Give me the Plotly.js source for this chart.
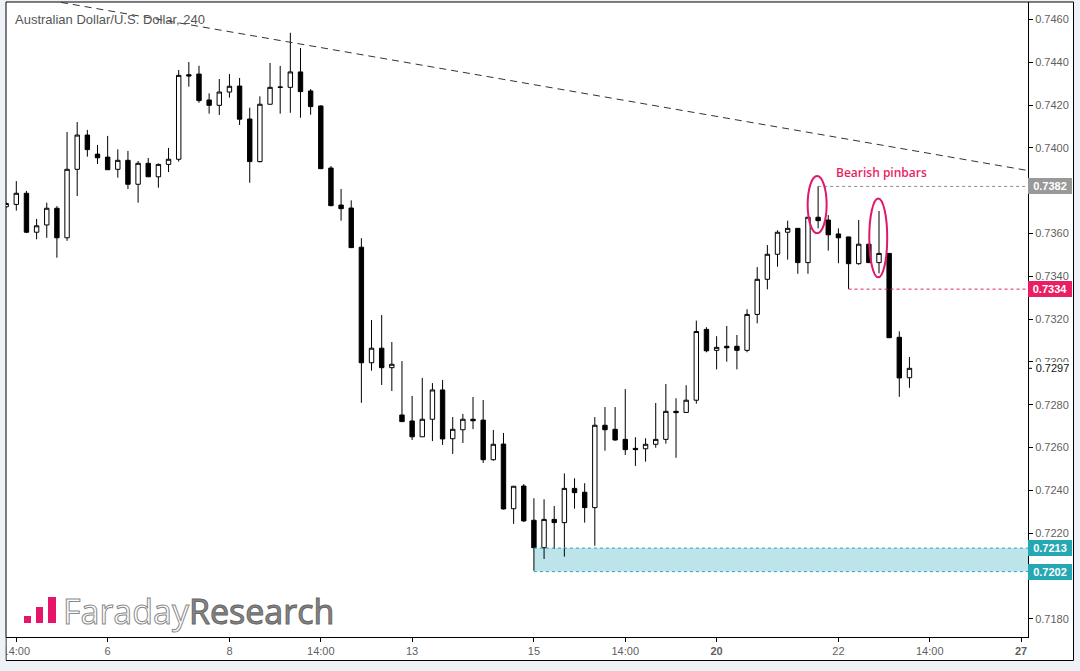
<!DOCTYPE html>
<html><head><meta charset="utf-8">
<script src="https://cdn.plot.ly/plotly-3.0.1.min.js"></script>
<style>html,body{margin:0;padding:0;background:#eef2f6;}#chart{width:1080px;height:671px;}</style>
</head><body><div id="chart"></div>
<script>
// ---- candle data (4H AUD/USD), index 0..89 ----
const openP = [0.73725,0.73736,0.73788,0.73606,0.73640,0.73718,0.73580,0.73900,0.74060,0.73971,
0.73957,0.73900,0.73942,0.73830,0.73928,0.73865,0.73923,0.73947,0.74342,0.74345,
0.74224,0.74199,0.74261,0.74289,0.74135,0.73936,0.74204,0.74285,0.74283,0.74355,
0.74266,0.74196,0.73906,0.73733,0.73719,0.73536,0.72996,0.73064,0.72973,0.72752,
0.72724,0.72650,0.72732,0.72869,0.72641,0.72683,0.72732,0.72728,0.72543,0.72616,
0.72314,0.72420,0.72260,0.72132,0.72264,0.72249,0.72409,0.72391,0.72319,0.72704,
0.72685,0.72638,0.72596,0.72594,0.72615,0.72638,0.72769,0.72764,0.72821,0.73152,
0.73054,0.73073,0.73073,0.73054,0.73222,0.73386,0.73503,0.73606,0.73624,0.73464,
0.73676,0.73663,0.73598,0.73584,0.73459,0.73550,0.73464,0.73507,0.73115,0.72926];
const highP = [0.73745,0.73845,0.73799,0.73668,0.73744,0.73728,0.74074,0.74121,0.74084,0.74014,
0.74056,0.73993,0.73986,0.73939,0.73953,0.73927,0.74000,0.74364,0.74401,0.74384,
0.74255,0.74322,0.74345,0.74327,0.74188,0.74241,0.74397,0.74383,0.74538,0.74467,
0.74275,0.74199,0.73915,0.73808,0.73755,0.73578,0.73196,0.73219,0.73093,0.73004,
0.72841,0.72925,0.72901,0.72915,0.72742,0.72757,0.72836,0.72822,0.72682,0.72668,
0.72420,0.72429,0.72363,0.72358,0.72327,0.72479,0.72456,0.72433,0.72742,0.72789,
0.72789,0.72873,0.72648,0.72643,0.72808,0.72897,0.72830,0.72891,0.73193,0.73162,
0.73120,0.73168,0.73126,0.73246,0.73443,0.73546,0.73615,0.73660,0.73626,0.73677,
0.73822,0.73686,0.73624,0.73584,0.73663,0.73551,0.73705,0.73509,0.73143,0.73023];
const lowP = [0.73720,0.73707,0.73602,0.73573,0.73580,0.73487,0.73566,0.73775,0.73959,0.73925,
0.73897,0.73861,0.73808,0.73744,0.73864,0.73814,0.73887,0.73936,0.74286,0.74211,
0.74160,0.74154,0.74235,0.74107,0.73837,0.73932,0.74203,0.74160,0.74164,0.74141,
0.74155,0.73901,0.73728,0.73660,0.73532,0.72809,0.72959,0.72892,0.72864,0.72719,
0.72635,0.72649,0.72630,0.72612,0.72570,0.72621,0.72686,0.72528,0.72538,0.72310,
0.72243,0.72252,0.72024,0.72079,0.72126,0.72090,0.72314,0.72249,0.72141,0.72585,
0.72632,0.72565,0.72514,0.72534,0.72599,0.72618,0.72552,0.72763,0.72805,0.73045,
0.72965,0.73001,0.72965,0.73045,0.73180,0.73339,0.73445,0.73478,0.73412,0.73412,
0.73624,0.73520,0.73461,0.73341,0.73454,0.73462,0.73414,0.73112,0.72837,0.72879];
const closeP = [0.73740,0.73788,0.73606,0.73636,0.73718,0.73580,0.73900,0.74060,0.73992,0.73954,
0.73898,0.73942,0.73830,0.73928,0.73865,0.73923,0.73947,0.74339,0.74336,0.74221,
0.74199,0.74261,0.74288,0.74134,0.73936,0.74204,0.74283,0.74283,0.74355,0.74263,
0.74193,0.73903,0.73730,0.73716,0.73534,0.72996,0.73064,0.72973,0.72989,0.72721,
0.72650,0.72732,0.72869,0.72640,0.72685,0.72732,0.72725,0.72543,0.72615,0.72313,
0.72419,0.72257,0.72132,0.72264,0.72249,0.72409,0.72389,0.72319,0.72704,0.72683,
0.72635,0.72590,0.72590,0.72615,0.72638,0.72769,0.72763,0.72821,0.73142,0.73052,
0.73068,0.73066,0.73054,0.73222,0.73386,0.73503,0.73606,0.73624,0.73464,0.73676,
0.73660,0.73594,0.73580,0.73459,0.73550,0.73464,0.73507,0.73113,0.72925,0.72970];
const candleIdx = openP.map((_, i) => i);

// ---- axis ticks ----
const xTickPos = [1, 10, 22, 31, 40, 52, 61, 70, 82, 91, 100];
const xTickText = ['14:00','6','8','14:00','13','15','14:00','<b>20</b>','22','14:00','<b>27</b>'];
const yTickVals = [0.718,0.720,0.722,0.724,0.726,0.728,0.730,0.732,0.734,0.736,0.738,0.740,0.742,0.744,0.746];
const yTickText = ['0.7180','','0.7220','0.7240','0.7260','0.7280','0.7300','0.7320','0.7340','0.7360','','0.7400','0.7420','0.7440','0.7460'];

// ---- annotation levels ----
const levelHigh = 0.7382, levelHighStart = 80;
const levelLow = 0.7334, levelLowStart = 83;
const zoneTop = 0.7213, zoneBottom = 0.7202, zoneStart = 52;
const lastPrice = 0.7297;
const trendX = [5.4, 100.7];
const trendY = [0.74680, 0.73894];
const pinbar1 = {x: [78.97, 80.84], y: [0.73601, 0.73869]};
const pinbar2 = {x: [85.04, 86.81], y: [0.73395, 0.73764]};
const noteText = 'Bearish pinbars', noteX = 81.6, noteY = 0.73885;

// ---- geometry ----
const ML = 6, MR = 52, MT = 2, MB = 34, W = 1080, H = 671;
const PW = W - ML - MR, PH = H - MT - MB;
const px2x = px => (px - ML) / PW;
const py2y = py => (H - MB - py) / PH;
const xMin = -0.015, xMax = 100.68;
const yMin = 0.717145, yMax = 0.746818;

const PINK = '#e91e63', TEAL = '#26a7b4', GRAY = '#999999';
const FONT = 'Liberation Sans, Arial, sans-serif';

const trace = {
  type: 'candlestick', x: candleIdx, open: openP, high: highP, low: lowP, close: closeP,
  increasing: {line: {color: '#000', width: 1}, fillcolor: '#ffffff'},
  decreasing: {line: {color: '#000', width: 1}, fillcolor: '#000000'},
  whiskerwidth: 0, hoverinfo: 'skip', showlegend: false
};

const shapes = [
  {type: 'rect', xref: 'paper', yref: 'paper', x0: px2x(6), x1: px2x(1073.5), y0: py2y(660.5), y1: py2y(2),
   fillcolor: '#ffffff', line: {color: '#000', width: 1}, layer: 'below'},
  {type: 'rect', xref: 'x', yref: 'y', x0: zoneStart, x1: xMax, y0: zoneBottom, y1: zoneTop,
   fillcolor: '#bee4eb', line: {width: 0}, layer: 'below'},
  {type: 'line', xref: 'x', yref: 'y', x0: zoneStart, x1: xMax, y0: zoneTop, y1: zoneTop, line: {color: TEAL, width: 1, dash: 'dot'}},
  {type: 'line', xref: 'x', yref: 'y', x0: zoneStart, x1: xMax, y0: zoneBottom, y1: zoneBottom, line: {color: TEAL, width: 1, dash: 'dot'}},
  {type: 'line', xref: 'x', yref: 'y', x0: levelHighStart, x1: xMax, y0: levelHigh, y1: levelHigh, line: {color: '#8c8c8c', width: 1, dash: 'dot'}},
  {type: 'line', xref: 'x', yref: 'y', x0: levelLowStart, x1: xMax, y0: levelLow, y1: levelLow, line: {color: PINK, width: 1, dash: 'dot'}},
  {type: 'line', xref: 'x', yref: 'y', x0: trendX[0], x1: trendX[1], y0: trendY[0], y1: trendY[1], line: {color: '#333', width: 1, dash: '7px,5px'}},
  {type: 'circle', xref: 'x', yref: 'y', x0: pinbar1.x[0], x1: pinbar1.x[1], y0: pinbar1.y[0], y1: pinbar1.y[1], line: {color: '#e0186c', width: 2}},
  {type: 'circle', xref: 'x', yref: 'y', x0: pinbar2.x[0], x1: pinbar2.x[1], y0: pinbar2.y[0], y1: pinbar2.y[1], line: {color: '#e0186c', width: 2}},
  {type: 'line', xref: 'paper', yref: 'y', x0: 1, x1: px2x(1032), y0: lastPrice, y1: lastPrice, line: {color: '#000', width: 1}},
  // logo bars
  {type: 'rect', xref: 'paper', yref: 'paper', x0: px2x(24), x1: px2x(31), y0: py2y(623), y1: py2y(616), fillcolor: '#e8146c', line: {width: 0}},
  {type: 'rect', xref: 'paper', yref: 'paper', x0: px2x(36), x1: px2x(43), y0: py2y(623), y1: py2y(607), fillcolor: '#e8146c', line: {width: 0}},
  {type: 'rect', xref: 'paper', yref: 'paper', x0: px2x(48), x1: px2x(56), y0: py2y(623), y1: py2y(597), fillcolor: '#e8146c', line: {width: 0}},
  // clip first tick label at frame edge
  {type: 'rect', xref: 'paper', yref: 'paper', x0: px2x(0), x1: px2x(5.5), y0: py2y(671), y1: py2y(637.5), fillcolor: '#eef2f6', line: {width: 0}, layer: 'above'}
];

function priceLabel(v, txt, bg, fg, xs, w) {
  return {xref: 'paper', yref: 'y', x: 1, y: v, xanchor: 'left', yanchor: 'middle', xshift: xs || 0,
    text: txt, showarrow: false, width: w || 44, height: 16, bgcolor: bg, borderpad: 0, borderwidth: 0,
    align: 'center', font: {family: FONT, size: 11, color: fg, weight: 'bold'}};
}

const annotations = [
  {xref: 'x', yref: 'y', x: noteX, y: noteY, xanchor: 'left', yanchor: 'middle', text: noteText, showarrow: false,
   font: {family: 'Open Sans, sans-serif', size: 12, color: PINK, weight: 600}},
  priceLabel(levelHigh, levelHigh.toFixed(4), GRAY, '#ffffff'),
  priceLabel(levelLow, levelLow.toFixed(4), PINK, '#ffffff'),
  priceLabel(zoneTop, zoneTop.toFixed(4), TEAL, '#ffffff'),
  priceLabel(zoneBottom, zoneBottom.toFixed(4), TEAL, '#ffffff'),
  Object.assign(priceLabel(lastPrice, lastPrice.toFixed(4), '#ffffff', '#111111', 5, 39), {height: 12, font: {family: FONT, size: 11, color: '#111'}}),
  {xref: 'paper', yref: 'paper', x: px2x(61), y: py2y(611), xanchor: 'left', yanchor: 'middle', showarrow: false,
   text: '<span style="fill:#ffffff;stroke:#8a8a8a;stroke-width:1px">Faraday</span><span style="fill:#858585;stroke:#666666;stroke-width:1px">Research</span>',
   font: {family: 'Open Sans, sans-serif', size: 34, color: '#858585'}}
];

const layout = {
  width: W, height: H, margin: {l: ML, r: MR, t: MT, b: MB, pad: 0},
  paper_bgcolor: '#eef2f6', plot_bgcolor: '#ffffff',
  showlegend: false, dragmode: false, boxgap: 0.38,
  title: {text: 'Australian Dollar/U.S. Dollar, 240', xref: 'container', yref: 'container', x: 15 / W, xanchor: 'left',
          y: 1 - 19.5 / H, yanchor: 'middle', font: {family: FONT, size: 13, color: '#555555'}},
  xaxis: {range: [xMin, xMax], showgrid: false, zeroline: false, showline: true, linecolor: '#000', linewidth: 1,
          ticks: 'outside', ticklen: 4, tickcolor: '#000', tickvals: xTickPos, ticktext: xTickText,
          tickfont: {family: FONT, size: 11, color: '#5f5f5f'},
          rangeslider: {visible: false}, fixedrange: true},
  yaxis: {range: [yMin, yMax], side: 'right', showgrid: false, zeroline: false, showline: true, linecolor: '#000', linewidth: 1,
          ticks: 'outside', ticklen: 4, tickcolor: '#000', tickvals: yTickVals, ticktext: yTickText,
          tickfont: {family: FONT, size: 11, color: '#5f5f5f'}, fixedrange: true},
  shapes: shapes, annotations: annotations
};

Plotly.newPlot('chart', [trace], layout, {displayModeBar: false, staticPlot: true});
</script></body></html>
